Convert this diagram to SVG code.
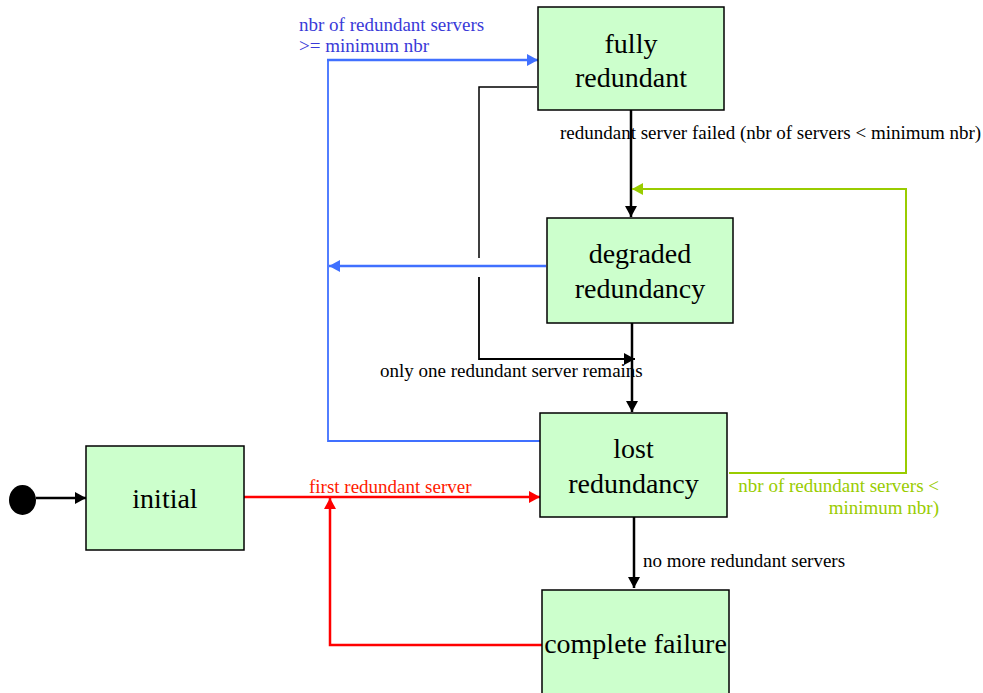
<svg xmlns="http://www.w3.org/2000/svg" width="983" height="693" viewBox="0 0 983 693">
<style>
.box{fill:#ccffcc;stroke:#000;stroke-width:1.5}
.st{font-family:"Liberation Serif","Times New Roman",serif;font-size:28px;fill:#000;text-anchor:middle}
.lbl{font-family:"Liberation Serif","Times New Roman",serif;font-size:19px}
.k{fill:none;stroke:#000}
.b{fill:none;stroke:#4070ff}
.r{fill:none;stroke:#ff0000;stroke-width:2.5}
.g{fill:none;stroke:#99cc00;stroke-width:2}
</style>
<defs>
<marker id="ak" markerUnits="userSpaceOnUse" markerWidth="12" markerHeight="12" refX="11" refY="6" orient="auto"><path d="M0,0 L11,6 L0,12 z" fill="#000"/></marker>
<marker id="ab" markerUnits="userSpaceOnUse" markerWidth="12" markerHeight="12" refX="11" refY="6" orient="auto"><path d="M0,0 L11,6 L0,12 z" fill="#4070ff"/></marker>
<marker id="ar" markerUnits="userSpaceOnUse" markerWidth="12" markerHeight="12" refX="11" refY="6" orient="auto"><path d="M0,0 L11,6 L0,12 z" fill="#ff0000"/></marker>
<marker id="ag" markerUnits="userSpaceOnUse" markerWidth="12" markerHeight="12" refX="11" refY="6" orient="auto"><path d="M0,0 L11,6 L0,12 z" fill="#99cc00"/></marker>
</defs>
<rect width="983" height="693" fill="#fff"/>
<g id="connectors">
<line class="k" x1="36" y1="498" x2="86" y2="498" stroke-width="2.5" marker-end="url(#ak)"/>
<line class="k" x1="631" y1="110" x2="631" y2="217" stroke-width="2.5" marker-end="url(#ak)"/>
<polyline class="g" points="729,473 906,473 906,189 632,189" marker-end="url(#ag)"/>
<line class="b" x1="546" y1="266" x2="329" y2="266" stroke-width="2.5" marker-end="url(#ab)"/>
<polyline class="b" points="540,441 328,441 328,60" stroke-width="1.8"/>
<line class="b" x1="327" y1="60" x2="538" y2="60" stroke-width="2.5" marker-end="url(#ab)"/>
<polyline class="k" points="537,87 479,87 479,258" stroke-width="1.5"/>
<polyline class="k" points="479,277 479,359 635,359" stroke-width="1.8" marker-end="url(#ak)"/>
<line class="k" x1="632" y1="323" x2="632" y2="412" stroke-width="2.5" marker-end="url(#ak)"/>
<line class="r" x1="244" y1="497" x2="540" y2="497" marker-end="url(#ar)"/>
<polyline class="r" points="542,645 330,645 330,498" marker-end="url(#ar)"/>
<line class="k" x1="634" y1="517" x2="634" y2="588" stroke-width="2.5" marker-end="url(#ak)"/>
<text class="lbl" x="560" y="139" fill="#000">redundant server failed (nbr of servers &lt; minimum nbr)</text>
<text class="lbl" x="299" y="31" fill="#3a3ad8">nbr of redundant servers</text>
<text class="lbl" x="299" y="52" fill="#3a3ad8">&gt;= minimum nbr</text>
<text class="lbl" x="380" y="377" fill="#000">only one redundant server remains</text>
<text class="lbl" x="309" y="493" fill="#ff1a00">first redundant server</text>
<text class="lbl" x="939" y="492" fill="#99cc00" text-anchor="end">nbr of redundant servers &lt;</text>
<text class="lbl" x="939" y="514" fill="#99cc00" text-anchor="end">minimum nbr)</text>
<text class="lbl" x="643" y="567" fill="#000">no more redundant servers</text>
</g>
<g id="start"><ellipse cx="22.5" cy="500" rx="13.5" ry="15" fill="#000"/></g>
<g id="initial"><rect class="box" x="86" y="446" width="158" height="104"/><text class="st" x="165" y="508">initial</text></g>
<g id="fully"><rect class="box" x="538" y="7" width="186" height="103"/><text class="st" x="631" y="53">fully</text><text class="st" x="631" y="87">redundant</text></g>
<g id="degraded"><rect class="box" x="547" y="218" width="186" height="105"/><text class="st" x="640" y="263">degraded</text><text class="st" x="640" y="298">redundancy</text></g>
<g id="lost"><rect class="box" x="540" y="413" width="187" height="104"/><text class="st" x="633.5" y="458">lost</text><text class="st" x="633.5" y="493">redundancy</text></g>
<g id="complete"><rect class="box" x="542" y="590" width="187" height="110"/><text class="st" x="635.5" y="653">complete failure</text></g>
</svg>
